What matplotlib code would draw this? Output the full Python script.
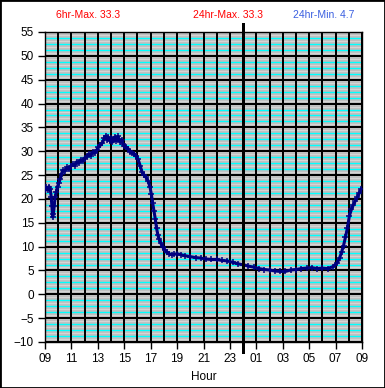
import numpy as np
import matplotlib
matplotlib.use('Agg')
import matplotlib.pyplot as plt
from matplotlib.patches import Rectangle

# hours since 09:00 and temperature readings
hours = [0.00, 0.10, 0.20, 0.30, 0.40, 0.47, 0.52, 0.58, 0.63, 0.70, 0.76, 0.85, 0.95,
         1.05, 1.15, 1.25, 1.35, 1.50, 1.65, 1.80, 1.95, 2.10, 2.25, 2.40, 2.55, 2.70,
         2.85, 3.00, 3.15, 3.30, 3.45, 3.60, 3.75, 3.90, 4.05, 4.20, 4.35, 4.50, 4.60,
         4.70, 4.80, 4.90, 5.00, 5.10, 5.20, 5.30, 5.40, 5.50, 5.60, 5.70, 5.80, 5.90,
         6.00, 6.15, 6.30, 6.45, 6.60, 6.75, 6.90, 7.05, 7.20, 7.35, 7.50, 7.65, 7.80,
         7.95, 8.05, 8.15, 8.25, 8.35, 8.45, 8.55, 8.65, 8.75, 8.90, 9.05, 9.20, 9.40,
         9.60, 9.80, 10.00, 10.30, 10.60, 11.00, 11.40, 11.80, 12.20, 12.60, 13.00,
         13.40, 13.80, 14.20, 14.60, 15.00, 15.40, 15.80, 16.20, 16.60, 17.00, 17.40,
         17.80, 18.20, 18.60, 19.00, 19.40, 19.80, 20.20, 20.60, 21.00, 21.40, 21.80,
         22.10, 22.30, 22.45, 22.60, 22.75, 22.90, 23.05, 23.20, 23.35, 23.50, 23.65,
         23.80, 23.95]
temps = [21.8, 22.4, 21.9, 22.6, 22.0, 20.5, 18.5, 16.2, 16.8, 18.5, 20.3, 21.5, 22.6,
         23.4, 24.2, 25.3, 26.0, 25.8, 26.6, 26.2, 26.9, 27.3, 27.0, 27.8, 27.5, 28.2,
         27.9, 28.6, 28.8, 29.4, 29.1, 29.8, 29.6, 30.2, 30.8, 31.3, 31.8, 32.8, 33.2,
         32.4, 32.9, 32.2, 32.8, 31.9, 32.6, 33.0, 32.2, 33.1, 32.5, 32.0, 32.4, 31.6,
         31.2, 30.8, 30.5, 29.9, 29.7, 29.5, 28.9, 28.3, 27.0, 25.6, 25.0, 24.5, 23.8,
         22.5, 21.0, 19.2, 17.5, 15.8, 13.8, 12.4, 11.5, 10.8, 10.0, 9.3, 8.8, 8.5,
         8.3, 8.4, 8.5, 8.3, 8.1, 7.9, 7.7, 7.6, 7.4, 7.3, 7.3,
         7.1, 7.0, 6.7, 6.4, 6.2, 5.9, 5.7, 5.4, 5.2, 5.1, 4.9,
         4.8, 4.8, 5.1, 5.2, 5.4, 5.5, 5.6, 5.4, 5.5, 5.4, 5.8,
         6.5, 7.6, 8.8, 10.2, 12.0, 14.0, 16.5, 17.8, 18.8, 19.6, 20.4,
         21.3, 22.1]
xtick_labels = ['09', '11', '13', '15', '17', '19', '21', '23', '01', '03', '05', '07', '09']
midnight = 15
header = [('6hr-Max. 33.3', 'red'), ('24hr-Max. 33.3', 'red'), ('24hr-Min. 4.7', '#3a5fe0')]

plt.rcParams['font.family'] = ['Liberation Sans', 'DejaVu Sans']

fig = plt.figure(figsize=(3.85, 3.88), dpi=100)
ax = fig.add_axes([45 / 385, 46 / 388, 317 / 385, 310 / 388])
ax.set_facecolor('#c0c0c0')

# minor horizontal lines: light / cyan alternating every 0.625
for k, y in enumerate(np.arange(-10, 55, 0.625)):
    if k % 8 == 0:
        continue
    if k % 2 == 1:
        ax.axhline(y, color='#d8d8d8', lw=0.6, zorder=1)
    else:
        ax.axhline(y, color='#00ffff', lw=1.0, zorder=1)

# major grid
for y in range(-10, 56, 5):
    ax.axhline(y, color='black', lw=1.44, zorder=2, antialiased=False)
for x in range(0, 25):
    ax.axvline(x, color='black', lw=1.44, zorder=2, antialiased=False)

ax.plot([midnight, midnight], [-12.1, 56.7], color='black', lw=2.16,
        clip_on=False, zorder=5, antialiased=False)

ax.plot(hours, temps, color='#000080', lw=2.2, marker='+', ms=4, mew=1.1, zorder=4)

ax.set_xlim(0, 24)
ax.set_ylim(-10, 55)
ax.set_yticks(range(-10, 56, 5))
ax.set_xticks(range(0, 25, 2))
ax.set_xticklabels(xtick_labels)
ax.tick_params(direction='out', length=5, width=1, labelsize=8.5, pad=3)
ax.set_xlabel('Hour', fontsize=8.5, labelpad=4)
for s in ax.spines.values():
    s.set_linewidth(1)

for (txt, col), xf in zip(header, [0.228, 0.592, 0.842]):
    fig.text(xf, 0.961, txt, color=col, fontsize=7.5, ha='center', va='center')

fig.patches.append(Rectangle((0, 0), 1, 1, transform=fig.transFigure, fill=False,
                             edgecolor='black', lw=2))

fig.savefig('out.png', dpi=100)
